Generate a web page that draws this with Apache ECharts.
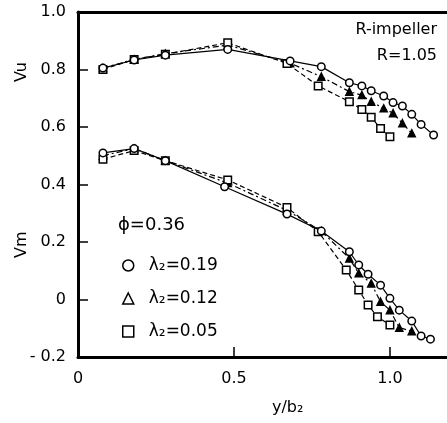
<!DOCTYPE html>
<html>
<head>
<meta charset="utf-8">
<script src="https://cdn.jsdelivr.net/npm/echarts@6/dist/echarts.min.js"></script>
<style>
  html, body { margin: 0; padding: 0; background: #fff; }
  #chart { width: 447px; height: 423px; }
</style>
</head>
<body>
<div id="chart"></div>
<script>
// lambda2 = 0.19 (circles)
const xVu19 = [0.08, 0.18, 0.28, 0.48, 0.68, 0.78, 0.87, 0.91, 0.94, 0.98, 1.01, 1.04, 1.07, 1.10, 1.14];
const vu19  = [0.805, 0.833, 0.850, 0.870, 0.830, 0.810, 0.754, 0.743, 0.726, 0.708, 0.685, 0.673, 0.644, 0.609, 0.572];
const xVm19 = [0.08, 0.18, 0.28, 0.47, 0.67, 0.78, 0.87, 0.90, 0.93, 0.97, 1.00, 1.03, 1.07, 1.10, 1.13];
const vm19  = [0.510, 0.525, 0.483, 0.392, 0.297, 0.238, 0.166, 0.120, 0.088, 0.050, 0.004, -0.037, -0.075, -0.127, -0.138];

// lambda2 = 0.12 (triangles)
const xVu12 = [0.08, 0.18, 0.28, 0.48, 0.68, 0.78, 0.87, 0.91, 0.94, 0.98, 1.01, 1.04, 1.07];
const vu12  = [0.805, 0.835, 0.855, 0.885, 0.822, 0.775, 0.723, 0.711, 0.688, 0.665, 0.648, 0.613, 0.578];
const xVm12 = [0.08, 0.18, 0.28, 0.48, 0.67, 0.78, 0.87, 0.90, 0.94, 0.97, 1.00, 1.03, 1.07];
const vm12  = [0.500, 0.525, 0.483, 0.405, 0.310, 0.238, 0.143, 0.091, 0.056, -0.008, -0.037, -0.098, -0.110];

// lambda2 = 0.05 (squares)
const xVu05 = [0.08, 0.18, 0.28, 0.48, 0.67, 0.77, 0.87, 0.91, 0.94, 0.97, 1.00];
const vu05  = [0.800, 0.835, 0.853, 0.893, 0.821, 0.743, 0.688, 0.661, 0.634, 0.595, 0.566];
const xVm05 = [0.08, 0.18, 0.28, 0.48, 0.67, 0.77, 0.86, 0.90, 0.93, 0.96, 1.00];
const vm05  = [0.488, 0.518, 0.483, 0.416, 0.320, 0.236, 0.103, 0.033, -0.019, -0.060, -0.089];

const names = ['λ₂=0.19', 'λ₂=0.12', 'λ₂=0.05'];
const xTicks = [0, 0.5, 1.0];

const font = 'DejaVu Sans';

function pairs(xs, ys) {
    return xs.map((x, i) => [x, ys[i]]);
}

function makeSeries(name, xs, ys, symbol, dash, filled) {
    return {
        name: name,
        type: 'line',
        data: pairs(xs, ys),
        symbol: symbol,
        symbolSize: symbol === 'triangle' ? 7 : 7.5,
        lineStyle: { color: '#000', width: 1.2, type: dash },
        itemStyle: { color: filled ? '#000' : '#fff', borderColor: '#000', borderWidth: 1.5 },
        animation: false,
        z: symbol === 'circle' ? 4 : 3
    };
}

const chart = echarts.init(document.getElementById('chart'));

chart.setOption({
    animation: false,
    grid: { left: 78, top: 12, right: 0, bottom: 66 },
    xAxis: [
        {
            type: 'value',
            min: 0,
            max: 1.183,
            interval: 0.5,
            axisLine: { onZero: false, lineStyle: { color: '#000', width: 3 } },
            axisTick: { inside: true, length: 10, lineStyle: { color: '#000', width: 1.5 } },
            axisLabel: {
                color: '#000', fontFamily: font, fontSize: 16, margin: 14,
                showMaxLabel: false,
                formatter: v => xTicks.includes(v) ? (v === 0 ? '0' : v.toFixed(1)) : ''
            },
            splitLine: { show: false }
        },
        {
            type: 'value',
            position: 'top',
            min: 0,
            max: 1.183,
            axisLine: { onZero: false, lineStyle: { color: '#000', width: 3 } },
            axisTick: { show: false },
            axisLabel: { show: false },
            splitLine: { show: false }
        }
    ],
    yAxis: {
        type: 'value',
        min: -0.2,
        max: 1.0,
        interval: 0.2,
        axisLine: { show: true, onZero: false, lineStyle: { color: '#000', width: 3 } },
        axisTick: { show: true, inside: true, length: 10, lineStyle: { color: '#000', width: 1.5 } },
        axisLabel: {
            color: '#000', fontFamily: font, fontSize: 16, margin: 12,
            formatter: v => {
                if (Math.abs(v) < 1e-9) return '0';
                if (v < 0) return '- ' + Math.abs(v).toFixed(1);
                return v.toFixed(1);
            }
        },
        splitLine: { show: false }
    },
    legend: {
        orient: 'vertical',
        left: 117,
        top: 252,
        itemWidth: 11,
        itemHeight: 11,
        itemGap: 16,
        textStyle: { color: '#000', fontFamily: font, fontSize: 17, padding: [0, 0, 0, 10] },
        data: [
            { name: names[0], icon: 'circle', itemStyle: { color: '#fff', borderColor: '#000', borderWidth: 1.5 } },
            { name: names[1], icon: 'triangle', itemStyle: { color: '#fff', borderColor: '#000', borderWidth: 1.5 } },
            { name: names[2], icon: 'rect', itemStyle: { color: '#fff', borderColor: '#000', borderWidth: 1.5 } }
        ]
    },
    graphic: [
        { type: 'text', left: 118, top: 216, style: { text: 'ϕ=0.36', fill: '#000', font: '18px "DejaVu Sans"' } },
        { type: 'text', right: 10, top: 22, style: { text: 'R-impeller', fill: '#000', font: '16px "DejaVu Sans"' } },
        { type: 'text', right: 10, top: 48, style: { text: 'R=1.05', fill: '#000', font: '16px "DejaVu Sans"' } },
        { type: 'text', left: 272, top: 400, style: { text: 'y/b₂', fill: '#000', font: '16px "DejaVu Sans"' } },
        { type: 'text', x: 14, y: 82, rotation: Math.PI / 2, style: { text: 'Vu', fill: '#000', font: '16px "DejaVu Sans"' } },
        { type: 'text', x: 14, y: 258, rotation: Math.PI / 2, style: { text: 'Vm', fill: '#000', font: '16px "DejaVu Sans"' } }
    ],
    series: [
        makeSeries(names[0], xVu19, vu19, 'circle', 'solid', false),
        makeSeries(names[0], xVm19, vm19, 'circle', 'solid', false),
        makeSeries(names[1], xVu12, vu12, 'triangle', [6, 3, 2, 3], true),
        makeSeries(names[1], xVm12, vm12, 'triangle', [6, 3, 2, 3], true),
        makeSeries(names[2], xVu05, vu05, 'rect', [5, 3], false),
        makeSeries(names[2], xVm05, vm05, 'rect', [5, 3], false)
    ]
});
</script>
</body>
</html>
